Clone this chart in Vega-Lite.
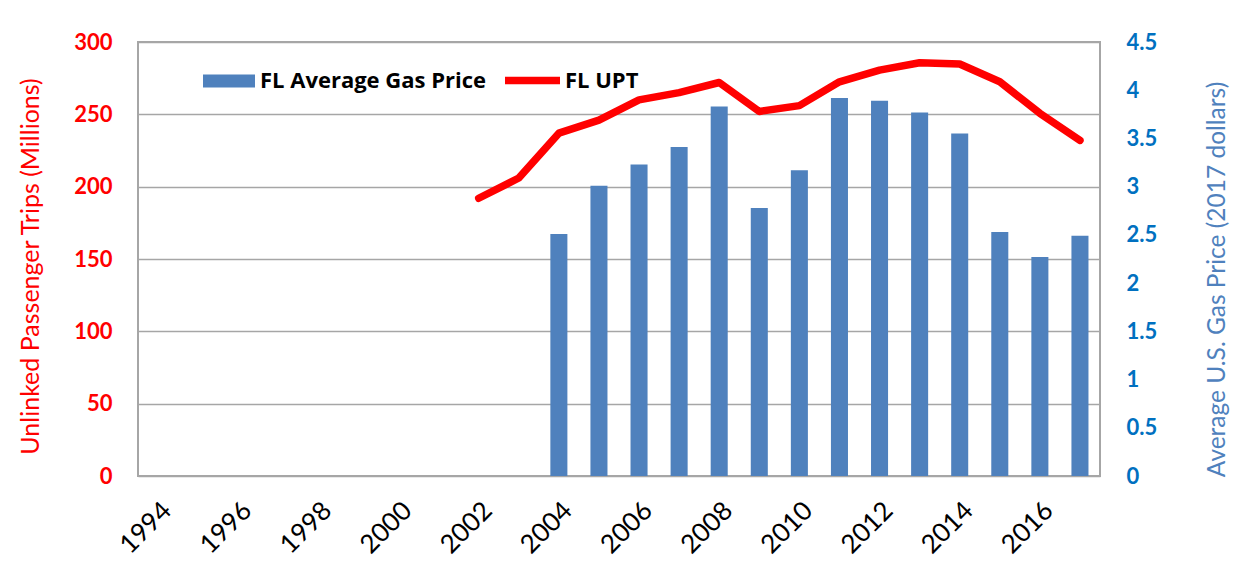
{
  "$schema": "https://vega.github.io/schema/vega-lite/v6.json",
  "autosize": "none",
  "padding": {"left": 138, "top": 42, "right": 153, "bottom": 93},
  "width": 962,
  "height": 434,
  "background": "white",
  "config": {
    "font": "Lato",
    "view": {"stroke": "#A6A6A6", "strokeWidth": 2}
  },
  "data": {
    "values": [
      {"year": 1994, "gas": null, "upt": null},
      {"year": 1995, "gas": null, "upt": null},
      {"year": 1996, "gas": null, "upt": null},
      {"year": 1997, "gas": null, "upt": null},
      {"year": 1998, "gas": null, "upt": null},
      {"year": 1999, "gas": null, "upt": null},
      {"year": 2000, "gas": null, "upt": null},
      {"year": 2001, "gas": null, "upt": null},
      {"year": 2002, "gas": null, "upt": 192},
      {"year": 2003, "gas": null, "upt": 206},
      {"year": 2004, "gas": 2.51, "upt": 237},
      {"year": 2005, "gas": 3.01, "upt": 246},
      {"year": 2006, "gas": 3.23, "upt": 260},
      {"year": 2007, "gas": 3.41, "upt": 265},
      {"year": 2008, "gas": 3.83, "upt": 272},
      {"year": 2009, "gas": 2.78, "upt": 252},
      {"year": 2010, "gas": 3.17, "upt": 256},
      {"year": 2011, "gas": 3.92, "upt": 272.5},
      {"year": 2012, "gas": 3.89, "upt": 280.6},
      {"year": 2013, "gas": 3.77, "upt": 285.7},
      {"year": 2014, "gas": 3.55, "upt": 284.8},
      {"year": 2015, "gas": 2.53, "upt": 272.5},
      {"year": 2016, "gas": 2.27, "upt": 250.7},
      {"year": 2017, "gas": 2.49, "upt": 232}
    ]
  },
  "encoding": {
    "x": {
      "field": "year",
      "type": "ordinal",
      "scale": {
        "domain": [1994,1995,1996,1997,1998,1999,2000,2001,2002,2003,2004,2005,2006,2007,2008,2009,2010,2011,2012,2013,2014,2015,2016,2017],
        "paddingInner": 0.575,
        "paddingOuter": 0.2875
      },
      "axis": {
        "title": null,
        "values": [1994,1996,1998,2000,2002,2004,2006,2008,2010,2012,2014,2016],
        "labelAngle": -45,
        "labelFontSize": 26,
        "labelColor": "#000000",
        "labelPadding": 21,
        "labelDx": -4,
        "ticks": false,
        "domain": false
      }
    }
  },
  "layer": [
    {
      "mark": {"type": "bar", "fill": "#4F81BD"},
      "encoding": {
        "y": {
          "field": "gas",
          "type": "quantitative",
          "scale": {"domain": [0, 4.5], "nice": false},
          "axis": {
            "orient": "right",
            "values": [0,0.5,1,1.5,2,2.5,3,3.5,4,4.5],
            "format": "~g",
            "grid": false,
            "ticks": false,
            "domain": false,
            "labelColor": "#0070C0",
            "labelFontWeight": "bold",
            "labelFontSize": 22,
            "labelPadding": 26,
            "title": "Average U.S. Gas Price (2017 dollars)",
            "titleColor": "#4F81BD",
            "titleFontWeight": "normal",
            "titleFontSize": 24.5,
            "titleAngle": 270,
            "titleX": 117,
            "titleY": 237,
            "titleAlign": "center",
            "titleBaseline": "middle"
          }
        },
        "fill": {
          "datum": "FL Average Gas Price",
          "type": "nominal",
          "scale": {"range": ["#4F81BD"]},
          "legend": {
            "title": null,
            "orient": "none",
            "legendX": 65,
            "legendY": 13,
            "symbolType": "M-1,-0.25H1V0.25H-1Z",
            "symbolSize": 2704,
            "symbolStrokeWidth": 0,
            "labelFont": "Open Sans",
            "labelFontSize": 22,
            "labelFontWeight": "bold",
            "labelColor": "#000000",
            "labelOffset": 5,
            "labelLimit": 400
          }
        }
      }
    },
    {
      "mark": {"type": "line", "strokeWidth": 7.5, "strokeCap": "round", "strokeJoin": "round"},
      "encoding": {
        "y": {
          "field": "upt",
          "type": "quantitative",
          "scale": {"domain": [0, 300], "nice": false},
          "axis": {
            "orient": "left",
            "values": [0,50,100,150,200,250,300],
            "grid": true,
            "gridColor": "#A6A6A6",
            "gridWidth": 1.5,
            "ticks": false,
            "domain": false,
            "labelColor": "#FF0000",
            "labelFontWeight": "bold",
            "labelFontSize": 22,
            "labelPadding": 26,
            "title": "Unlinked Passenger Trips (Millions)",
            "titleColor": "#FF0000",
            "titleFontWeight": "normal",
            "titleFontSize": 25,
            "titleAngle": 270,
            "titleX": -108,
            "titleY": 224,
            "titleAlign": "center",
            "titleBaseline": "middle"
          }
        },
        "stroke": {
          "datum": "FL UPT",
          "type": "nominal",
          "scale": {"range": ["#FF0000"]},
          "legend": {
            "title": null,
            "orient": "none",
            "legendX": 363,
            "legendY": 7,
            "symbolType": "stroke",
            "symbolSize": 3025,
            "symbolStrokeWidth": 7.5,
            "symbolStrokeColor": "#FF0000",
            "labelFont": "Open Sans",
            "labelFontSize": 22,
            "labelFontWeight": "bold",
            "labelColor": "#000000",
            "labelOffset": 1,
            "labelLimit": 400
          }
        }
      }
    }
  ],
  "resolve": {"scale": {"y": "independent", "fill": "independent", "stroke": "independent"}}
}
